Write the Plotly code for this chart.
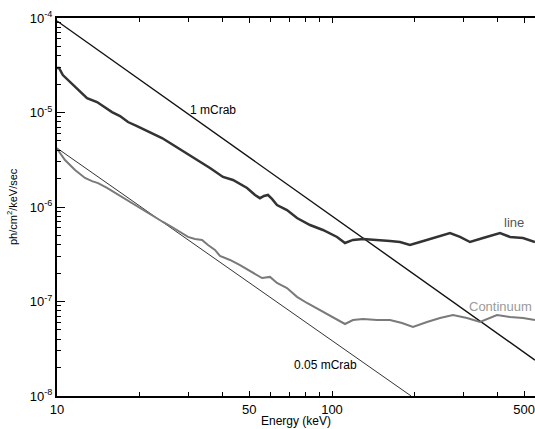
import plotly.graph_objects as go

# ---- data (energy in keV, flux in ph/cm^2/keV/sec) ----
line_energy = [10.0, 10.17, 10.5, 11.15, 11.63, 12.33, 12.86, 13.98, 14.95, 15.85,
               16.95, 18.12, 19.54, 20.89, 22.72, 24.09, 25.76, 27.54, 29.70, 31.76,
               36.0, 40.15, 43.65, 49.1, 52.5, 54.7, 56.6, 58.5, 60.5, 63.1,
               68.6, 74.6, 83.2, 92.7, 104.3, 111.5, 119.2, 129.7, 149.5, 162.5,
               176.7, 192.1, 208.9, 232.9, 268.6, 292.1, 317.6, 354.1, 408.2, 444.0,
               495.0, 547.2]
line_flux = [2.96e-5, 2.96e-5, 2.49e-5, 2.10e-5, 1.86e-5, 1.57e-5, 1.42e-5, 1.29e-5, 1.14e-5, 1.01e-5,
             9.18e-6, 7.93e-6, 7.19e-6, 6.53e-6, 5.78e-6, 5.37e-6, 4.75e-6, 4.21e-6, 3.72e-6, 3.30e-6,
             2.59e-6, 2.08e-6, 1.93e-6, 1.59e-6, 1.34e-6, 1.24e-6, 1.31e-6, 1.34e-6, 1.22e-6, 1.05e-6,
             9.29e-7, 7.65e-7, 6.45e-7, 5.71e-7, 4.82e-7, 4.16e-7, 4.48e-7, 4.58e-7, 4.48e-7, 4.37e-7,
             4.26e-7, 3.96e-7, 4.26e-7, 4.70e-7, 5.31e-7, 4.82e-7, 4.26e-7, 4.70e-7, 5.31e-7, 4.82e-7,
             4.70e-7, 4.26e-7]

cont_energy = [10.0, 10.08, 10.43, 10.69, 11.63, 12.64, 13.41, 14.10, 15.20, 16.25,
               17.67, 19.21, 20.89, 22.72, 24.29, 26.19, 28.01, 29.95, 31.76, 33.68,
               35.41, 37.54, 39.15, 42.57, 46.29, 51.6, 55.67, 59.5, 63.1, 68.6,
               74.6, 81.1, 90.4, 100.8, 111.5, 119.2, 129.7, 145.8, 162.5, 179.7,
               197.0, 221.6, 247.0, 275.4, 309.7, 345.3, 398.1, 444.0, 495.0, 547.2]
cont_flux = [4.21e-6, 4.01e-6, 3.47e-6, 3.14e-6, 2.46e-6, 2.03e-6, 1.88e-6, 1.79e-6, 1.59e-6, 1.41e-6,
             1.22e-6, 1.05e-6, 9.08e-7, 7.84e-7, 6.94e-7, 6.14e-7, 5.43e-7, 4.82e-7, 4.58e-7, 4.48e-7,
             3.96e-7, 3.51e-7, 3.03e-7, 2.75e-7, 2.43e-7, 2.00e-7, 1.77e-7, 1.82e-7, 1.57e-7, 1.39e-7,
             1.12e-7, 9.64e-8, 8.13e-8, 6.86e-8, 5.78e-8, 6.37e-8, 6.53e-8, 6.37e-8, 6.37e-8, 5.92e-8,
             5.37e-8, 6.07e-8, 6.69e-8, 7.19e-8, 6.69e-8, 6.07e-8, 7.19e-8, 6.86e-8, 6.69e-8, 6.37e-8]

crab1_energy = [10.0, 547.2]
crab1_flux = [9.3e-5, 2.4e-8]
crab005_energy = [10.0, 194.0]
crab005_flux = [4.2e-6, 1.0e-8]

x_tick_vals = [10, 50, 100, 500]
x_tick_text = ["10", "50", "100", "500"]
x_minor_vals = [20, 30, 40, 60, 70, 80, 90, 200, 300, 400]
y_tick_vals = [1e-8, 1e-7, 1e-6, 1e-5, 1e-4]
y_tick_text = ["10<sup>-8</sup>", "10<sup>-7</sup>", "10<sup>-6</sup>", "10<sup>-5</sup>", "10<sup>-4</sup>"]
y_minor_vals = [k * 10.0 ** n for n in range(-8, -4) for k in range(2, 10)]

FONT = "Liberation Sans, Arial, Helvetica, sans-serif"

fig = go.Figure()
fig.add_trace(go.Scatter(x=crab1_energy, y=crab1_flux, mode="lines",
                         line=dict(color="#111111", width=1.4), showlegend=False))
fig.add_trace(go.Scatter(x=crab005_energy, y=crab005_flux, mode="lines",
                         line=dict(color="#333333", width=1), showlegend=False))
fig.add_trace(go.Scatter(x=cont_energy, y=cont_flux, mode="lines",
                         line=dict(color="#7a7a7a", width=2), showlegend=False))
fig.add_trace(go.Scatter(x=line_energy, y=line_flux, mode="lines",
                         line=dict(color="#333333", width=2.5), showlegend=False))

fig.update_layout(
    width=535, height=429,
    margin=dict(l=57, r=0, t=18, b=33),
    paper_bgcolor="white", plot_bgcolor="white",
    font=dict(family=FONT, size=12, color="black"),
    xaxis=dict(type="log", range=[1, 2.7382], tickmode="array", automargin=False,
               tickvals=x_tick_vals, ticktext=x_tick_text, ticklabeloverflow="allow",
               ticks="inside", ticklen=5, tickwidth=1, tickcolor="black",
               showline=True, linewidth=2, linecolor="black", mirror="ticks",
               showgrid=False, zeroline=False,
               minor=dict(tickmode="array", tickvals=x_minor_vals, ticks="inside",
                          ticklen=4, tickwidth=1, tickcolor="black", showgrid=False),
               tickfont=dict(size=13)),
    yaxis=dict(type="log", range=[-8, -4], tickmode="array", automargin=False,
               tickvals=y_tick_vals, ticktext=y_tick_text, ticklabeloverflow="allow",
               ticks="inside", ticklen=8, tickwidth=1, tickcolor="black",
               showline=True, linewidth=2, linecolor="black", mirror=False,
               showgrid=False, zeroline=False,
               minor=dict(tickmode="array", tickvals=y_minor_vals, ticks="inside",
                          ticklen=4, tickwidth=1, tickcolor="black", showgrid=False),
               tickfont=dict(size=13)),
    annotations=[
        dict(text="1 mCrab", x=1.476, y=-4.974, xref="x", yref="y", xanchor="left",
             yanchor="middle", showarrow=False, font=dict(size=12, color="black")),
        dict(text="0.05 mCrab", x=1.8545, y=-7.672, xref="x", yref="y", xanchor="left",
             yanchor="middle", showarrow=False, font=dict(size=12, color="black")),
        dict(text="line", x=2.618, y=-6.169, xref="x", yref="y", xanchor="left",
             yanchor="middle", showarrow=False, font=dict(size=13, color="#555555")),
        dict(text="Continuum", x=2.491, y=-7.058, xref="x", yref="y", xanchor="left",
             yanchor="middle", showarrow=False, font=dict(size=13, color="#9a9a9a")),
        dict(text="Energy (keV)", x=0.5, y=-0.066, xref="paper", yref="paper",
             xanchor="center", yanchor="middle", showarrow=False, font=dict(size=12)),
        dict(text="ph/cm<sup>2</sup>/keV/sec", x=-0.094, y=0.5, xref="paper", yref="paper",
             xanchor="center", yanchor="middle", textangle=-90, showarrow=False,
             font=dict(size=11)),
    ],
)

fig.write_html("out.html",
               config={"displayModeBar": False},
               post_script="document.body.style.margin='0px';"
                           "document.body.style.padding='0px';"
                           "document.body.style.overflow='hidden';")
